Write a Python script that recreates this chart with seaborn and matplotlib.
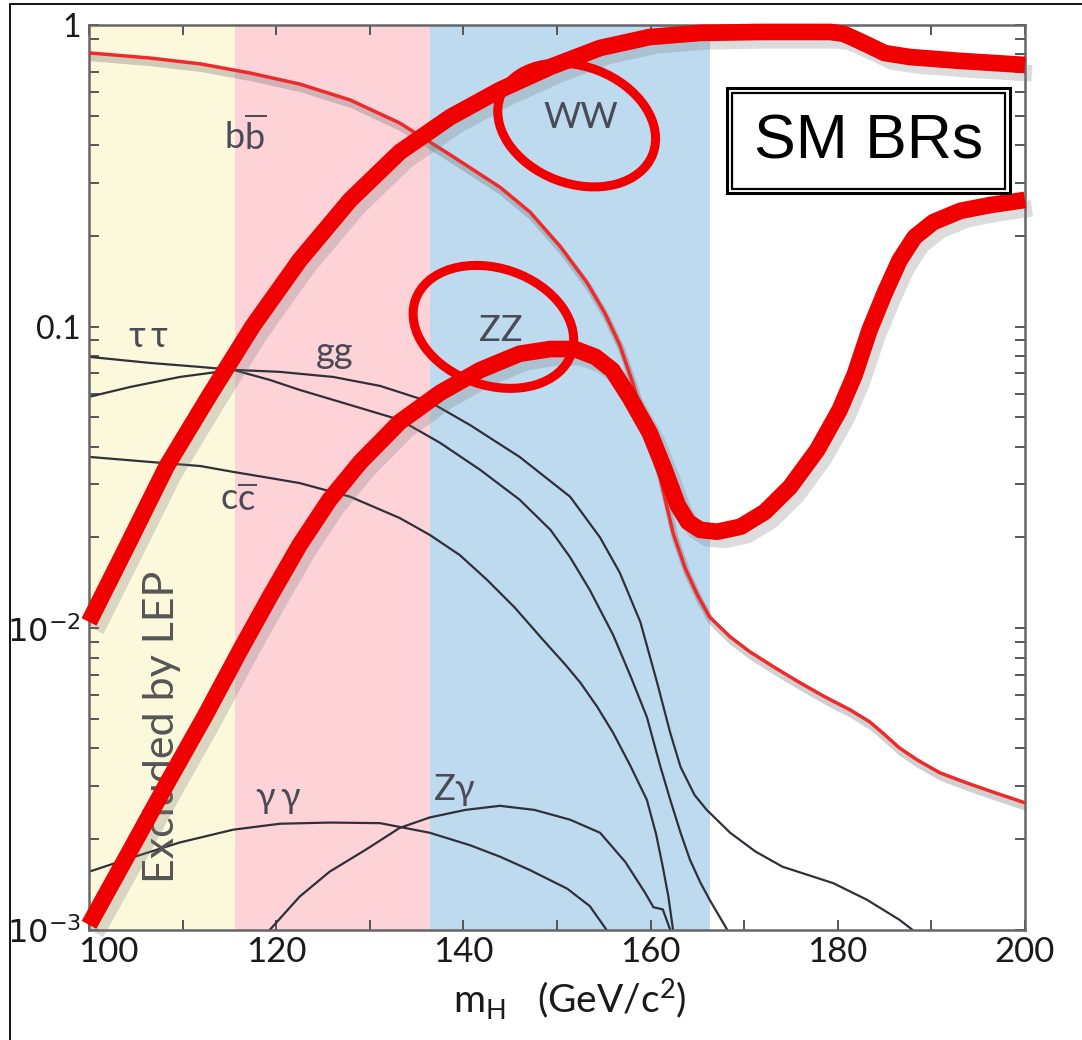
import matplotlib
matplotlib.use("Agg")
import matplotlib.pyplot as plt
import matplotlib.patheffects as pe
import matplotlib.transforms as mtransforms
from matplotlib.patches import Ellipse, Rectangle
from matplotlib.lines import Line2D
from matplotlib.ticker import FixedLocator, FixedFormatter, LogLocator, NullFormatter
import pandas as pd
import seaborn as sns

# ---------------- data: SM Higgs branching ratios vs m_H ----------------
mh_bb = [100, 106.5, 111.9, 117.2, 122.5, 127.9, 133.2, 138.6, 143.9, 147.1, 150.3,
         153.2, 155.1, 156.7, 158.1, 159.4, 161.0, 162.4, 163.7, 165.0, 166.3, 168.5,
         170.6, 173.3, 176.0, 178.6, 181.3, 183.4, 184.8, 186.6, 188.5, 190.9, 193.8,
         196.8, 200]
br_bb = [0.808, 0.777, 0.743, 0.693, 0.637, 0.564, 0.473, 0.371, 0.29, 0.24, 0.185,
         0.14, 0.111, 0.087, 0.065, 0.0472, 0.0318, 0.0207, 0.0158, 0.0129, 0.0109,
         0.00937, 0.00836, 0.0074, 0.00659, 0.00593, 0.00537, 0.0049, 0.0045, 0.00401,
         0.00366, 0.00332, 0.00307, 0.00285, 0.00264]

mh_tautau = [100, 106.5, 111.9, 115.4, 119.3, 122.5, 127.9, 133.2, 137.5, 141.8, 146.0,
             149.3, 151.4, 153.5, 156.0, 157.8, 159.6, 161.0, 162.1, 163.2, 164.2, 165.3,
             166.3, 168.2]
br_tautau = [0.0794, 0.0758, 0.0735, 0.0719, 0.0666, 0.0617, 0.055, 0.0491, 0.0412,
             0.0335, 0.0267, 0.0212, 0.0172, 0.0134, 0.0095, 0.00701, 0.00508, 0.00352,
             0.0027, 0.0021, 0.00171, 0.00144, 0.00126, 0.001]

mh_gg = [100, 104.4, 109.7, 115.4, 120.4, 126.1, 131.1, 136.4, 140.7, 146.0, 151.4,
         154.6, 156.7, 158.9, 160.7, 162.1, 163.2, 164.7, 166.0, 168.5, 171.2, 174.1,
         179.5, 183.1, 186.6, 188.0]
br_gg = [0.0585, 0.0631, 0.0681, 0.0719, 0.0708, 0.0681, 0.0636, 0.0563, 0.0472, 0.037,
         0.0273, 0.02, 0.0153, 0.0105, 0.0066, 0.0045, 0.00347, 0.0028, 0.0025, 0.0021,
         0.00182, 0.00162, 0.00143, 0.00126, 0.00108, 0.001]

mh_cc = [100, 106.5, 111.9, 115.4, 119.3, 122.5, 127.9, 133.2, 136.4, 139.6, 142.5,
         145.5, 148.5, 150.9, 152.5, 154.3, 156.0, 157.8, 159.6, 160.6, 161.3, 161.9,
         162.4]
br_cc = [0.037, 0.0356, 0.0345, 0.033, 0.0315, 0.0303, 0.0273, 0.0232, 0.0204, 0.0175,
         0.0145, 0.0117, 0.00916, 0.00757, 0.0066, 0.00549, 0.0045, 0.00352, 0.0027,
         0.00207, 0.00162, 0.00129, 0.001]

mh_gamgam = [100, 104.4, 109.7, 115.4, 120.4, 125.7, 131.1, 136.4, 140.7, 143.9, 147.1,
             151.1, 153.5, 155.3]
br_gamgam = [0.00156, 0.00173, 0.00195, 0.00215, 0.00225, 0.00227, 0.00226, 0.0021,
             0.00191, 0.00175, 0.00158, 0.00137, 0.0012, 0.001]

mh_zgam = [119.3, 122.5, 125.7, 129.5, 133.2, 136.4, 140.2, 143.9, 147.6, 151.4, 154.6,
           157.3, 159.4, 160.3, 161.3, 162.1]
br_zgam = [0.001, 0.00129, 0.00156, 0.00184, 0.00218, 0.00236, 0.0025, 0.00258, 0.0025,
           0.00232, 0.0021, 0.00168, 0.00133, 0.00119, 0.00117, 0.001]

mh_ww = [100, 104.2, 108.3, 112.9, 117.5, 122.5, 127.9, 133.2, 138.6, 143.9, 149.3,
         154.6, 159.9, 165.3, 171.7, 179.2, 180.6, 181.8, 183.2, 185.0, 187.7, 193.1,
         200]
br_ww = [0.0105, 0.0191, 0.0345, 0.0594, 0.1005, 0.166, 0.263, 0.379, 0.495, 0.609,
         0.726, 0.839, 0.912, 0.941, 0.948, 0.948, 0.935, 0.9, 0.859, 0.807, 0.783, 0.76,
         0.737]

mh_zz = [100, 104.2, 108.3, 112.4, 116.1, 119.3, 122.5, 125.7, 129.0, 133.2, 137.5,
         141.8, 146.0, 149.3, 151.9, 154.1, 155.9, 157.8, 159.9, 161.5, 162.9, 164.0,
         165.3, 167.1, 169.6, 172.2, 174.9, 177.8, 180.2, 181.8, 183.4, 185.0, 186.6,
         188.2, 190.2, 193.1, 196.3, 200]
br_zz = [0.00104, 0.00179, 0.00305, 0.00513, 0.00841, 0.0127, 0.0189, 0.0267, 0.0356,
         0.0483, 0.0603, 0.0718, 0.0813, 0.0843, 0.0843, 0.0794, 0.0718, 0.058, 0.0445,
         0.0335, 0.0256, 0.0225, 0.0212, 0.0209, 0.0217, 0.0243, 0.0294, 0.039, 0.053,
         0.0692, 0.0975, 0.129, 0.166, 0.198, 0.222, 0.242, 0.253, 0.263]

# shaded mass regions and their fills
band_edges = [100, 115.6, 136.4, 166.3]
band_colors = ["#fbf8dc", "#fdd3d8", "#bedaee"]

x_ticks = [100, 120, 140, 160, 180, 200]
y_ticks = [1e-3, 1e-2, 0.1, 1]
y_tick_labels = [r"$10^{-3}$", r"$10^{-2}$", "0.1", "1"]

# channel labels: (text, m_H, BR)
channel_labels = [
    (r"b$\mathregular{\overline{b}}$", 116.7, 0.43),
    (r"$\mathregular{\tau\,\tau}$", 106.3, 0.093),
    ("gg", 126.2, 0.082),
    (r"c$\mathregular{\overline{c}}$", 115.9, 0.0265),
    (r"$\mathregular{\gamma\,\gamma}$", 120.2, 0.0027),
    (r"Z$\mathregular{\gamma}$", 139.0, 0.0029),
    ("WW", 152.5, 0.495),
    ("ZZ", 144.0, 0.0974),
]

frames = []
for name, xs, ys in [("bb", mh_bb, br_bb), ("tautau", mh_tautau, br_tautau),
                     ("gg", mh_gg, br_gg), ("cc", mh_cc, br_cc),
                     ("gamgam", mh_gamgam, br_gamgam), ("zgam", mh_zgam, br_zgam),
                     ("WW", mh_ww, br_ww), ("ZZ", mh_zz, br_zz)]:
    frames.append(pd.DataFrame({"mH": xs, "BR": ys, "channel": name}))
df = pd.concat(frames, ignore_index=True)

# ---------------- style ----------------
sns.set_style("ticks")
plt.rcParams["font.family"] = ["Lato", "DejaVu Sans"]
plt.rcParams["mathtext.fontset"] = "dejavusans"
plt.rcParams["text.color"] = "black"

RED = "#f00000"
DPI = 100
fig = plt.figure(figsize=(10.82, 10.40), dpi=DPI)
ax = fig.add_axes([0.0823, 0.1058, 0.8650, 0.8702])
ax.set_facecolor("white")

for lo, hi, col in zip(band_edges[:-1], band_edges[1:], band_colors):
    ax.axvspan(lo, hi, color=col, lw=0, zorder=0)

thin_black = ["tautau", "gg", "cc", "gamgam", "zgam"]
for ch in thin_black:
    sns.lineplot(data=df[df.channel == ch], x="mH", y="BR", ax=ax, color="#30303a",
                 lw=1.6, zorder=2, legend=False, estimator=None,
                 solid_joinstyle="round")

sns.lineplot(data=df[df.channel == "bb"], x="mH", y="BR", ax=ax, color="#f02a2a",
             lw=2.5, zorder=3, legend=False, estimator=None, solid_joinstyle="round",
             path_effects=[pe.SimpleLineShadow(offset=(1.5, -3.5), shadow_color="#666",
                                               alpha=0.3, linewidth=5), pe.Normal()])

for ch in ["WW", "ZZ"]:
    sns.lineplot(data=df[df.channel == ch], x="mH", y="BR", ax=ax, color=RED,
                 lw=12, zorder=5, legend=False, estimator=None, clip_on=False,
                 solid_capstyle="butt", solid_joinstyle="round",
                 path_effects=[pe.SimpleLineShadow(offset=(5, -6), shadow_color="#777",
                                                   alpha=0.25), pe.Normal()])

ax.set_yscale("log")
ax.set_xlim(100, 200)
ax.set_ylim(1e-3, 1)

# ticks
ax.xaxis.set_major_locator(FixedLocator(x_ticks))
ax.xaxis.set_minor_locator(FixedLocator([110, 130, 150, 170, 190]))
ax.yaxis.set_major_locator(FixedLocator(y_ticks))
ax.yaxis.set_major_formatter(FixedFormatter(y_tick_labels))
ax.yaxis.set_minor_locator(LogLocator(base=10, subs=range(2, 10)))
ax.yaxis.set_minor_formatter(NullFormatter())
ax.tick_params(which="both", direction="in", top=True, right=True, color="#555",
               width=1.4, length=7)
ax.tick_params(axis="x", which="major", labelsize=25, pad=4, labelcolor="#1a1a1a")
ax.tick_params(axis="y", which="major", labelsize=23, pad=6, labelcolor="#1a1a1a")
for s in ax.spines.values():
    s.set_color("#666")
    s.set_linewidth(1.8)

ax.set_xlabel(r"m$_\mathregular{H}$   (GeV/c$^\mathregular{2}$)", fontsize=28,
              color="#1a1a1a")
ax.xaxis.set_label_coords(0.514, -0.052)
ax.set_ylabel("")

# shift the first x label clear of the y labels
fig.canvas.draw()
t0 = ax.xaxis.get_major_ticks()[0]
t0.label1.set_transform(t0.label1.get_transform() +
                        mtransforms.ScaledTranslation(0.19, 0, fig.dpi_scale_trans))

# channel labels
for txt, x, y in channel_labels:
    ax.text(x, y, txt, fontsize=26, color="#4b4b58", ha="center", va="center", zorder=4)

ax.text(107.8, 0.0047, "Excluded by LEP", rotation=90, fontsize=31, color="#555",
        ha="center", va="center", zorder=4)

# circled decay channels
def ring(xc, yc, w_px, h_px, angle):
    tr = fig.dpi_scale_trans + mtransforms.ScaledTranslation(xc, yc, ax.transData)
    ax.add_patch(Ellipse((0, 0), w_px / DPI, h_px / DPI, angle=angle, transform=tr,
                         fill=False, ec=RED, lw=6.5, zorder=6, clip_on=False))

ring(152.1, 0.466, 163, 117, -21)
ring(143.2, 0.0998, 165, 117, -19)

# title box with double border
ax.add_patch(Rectangle((0.682, 0.814), 0.302, 0.116, transform=ax.transAxes,
                       fc="white", ec="black", lw=2.2, zorder=7))
ax.add_patch(Rectangle((0.687, 0.819), 0.292, 0.106, transform=ax.transAxes,
                       fill=False, ec="black", lw=1.6, zorder=8))
ax.text(0.833, 0.871, "SM BRs", transform=ax.transAxes, fontsize=45, color="black",
        family=["Liberation Sans", "DejaVu Sans"], ha="center", va="center", zorder=9)

# outer frame
fx, fy = 10 / 1082, 1 - 4 / 1040
fig.add_artist(Line2D([fx, fx], [0, fy], transform=fig.transFigure, color="black", lw=1.3))
fig.add_artist(Line2D([fx, 1], [fy, fy], transform=fig.transFigure, color="black", lw=1.3))

fig.savefig("out.png", dpi=DPI)
